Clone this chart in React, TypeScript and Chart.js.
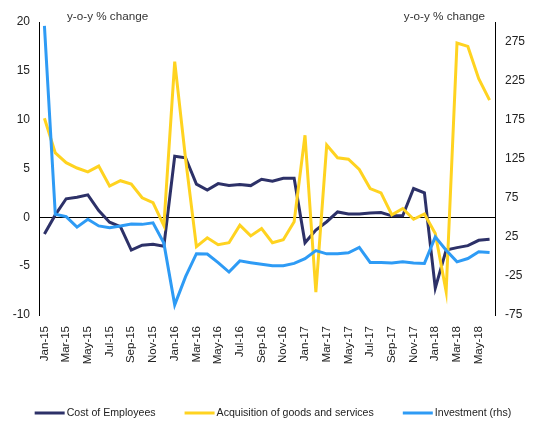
import React, { useEffect, useRef } from "react";
import { Chart, registerables } from "chart.js";

Chart.register(...registerables);

const months: string[] = [
  "Jan-15","Feb-15","Mar-15","Apr-15","May-15","Jun-15","Jul-15","Aug-15","Sep-15","Oct-15","Nov-15","Dec-15",
  "Jan-16","Feb-16","Mar-16","Apr-16","May-16","Jun-16","Jul-16","Aug-16","Sep-16","Oct-16","Nov-16","Dec-16",
  "Jan-17","Feb-17","Mar-17","Apr-17","May-17","Jun-17","Jul-17","Aug-17","Sep-17","Oct-17","Nov-17","Dec-17",
  "Jan-18","Feb-18","Mar-18","Apr-18","May-18","Jun-18",
];

const costOfEmployees: number[] = [
  -1.7, 0.25, 1.9, 2.05, 2.3, 0.7, -0.5, -0.95, -3.35, -2.85, -2.75, -2.95,
  6.25, 6.1, 3.4, 2.8, 3.45, 3.25, 3.35, 3.25, 3.9, 3.7, 4.0, 4.0,
  -2.6, -1.3, -0.45, 0.55, 0.35, 0.35, 0.45, 0.5, 0.15, 0.15, 2.95, 2.5,
  -7.25, -3.35, -3.1, -2.9, -2.35, -2.25,
];

const acquisitionGoods: number[] = [
  10.15, 6.6, 5.6, 5.05, 4.65, 5.25, 3.2, 3.75, 3.4, 2.0, 1.5, -0.85,
  15.95, 6.0, -3.0, -2.1, -2.8, -2.6, -0.8, -1.9, -1.15, -2.6, -2.3, -0.45,
  8.4, -7.65, 7.4, 6.1, 5.95, 4.9, 2.95, 2.5, 0.25, 0.9, -0.2, 0.35,
  -1.65, -7.6, 17.85, 17.5, 14.2, 12.0,
];

const investmentRhs: number[] = [
  295, 54, 51, 37.5, 47.5, 39, 36.7, 38.9, 41.5, 41, 43, 17,
  -62, -26, 3.5, 3, -8, -20, -5.7, -8, -10, -12, -12, -9,
  -3, 7.5, 3.3, 3.3, 4.6, 11.4, -7.8, -7.8, -8.5, -7, -8.3, -9,
  25, 8, -7, -2.7, 5.9, 5,
];

const rightTicks: number[] = [-75, -25, 25, 75, 125, 175, 225, 275];
const axisTitle = "y-o-y % change";
const seriesNames: string[] = ["Cost of Employees", "Acquisition of goods and services", "Investment (rhs)"];
const seriesColors: string[] = ["#2D3168", "#FFD320", "#2E9BF5"];

const FONT = "'Liberation Sans', Arial, sans-serif";

const overlayPlugin = {
  id: "overlay",
  afterDraw(chart: any) {
    const ctx = chart.ctx;
    const area = chart.chartArea;
    ctx.save();
    // axis titles
    ctx.font = `11.7px ${FONT}`;
    ctx.fillStyle = "#333";
    ctx.textBaseline = "middle";
    ctx.textAlign = "left";
    ctx.fillText(axisTitle, area.left + 28, 16.5);
    ctx.textAlign = "right";
    ctx.fillText(axisTitle, area.right - 10, 17);

    // legend
    ctx.font = `10.6px ${FONT}`;
    const lineW = 30;
    const gapAfterLine = 2;
    const gapItems = 29;
    const ds = chart.data.datasets;
    const widths = ds.map((d: any) => lineW + gapAfterLine + ctx.measureText(d.label).width);
    const total = widths.reduce((a: number, b: number) => a + b, 0) + gapItems * (ds.length - 1);
    let x = 273 - total / 2;
    const y = 413;
    ds.forEach((d: any, i: number) => {
      ctx.strokeStyle = d.borderColor;
      ctx.lineWidth = 3;
      ctx.beginPath();
      ctx.moveTo(x, y);
      ctx.lineTo(x + lineW, y);
      ctx.stroke();
      ctx.fillStyle = "#222";
      ctx.textAlign = "left";
      ctx.textBaseline = "middle";
      ctx.fillText(d.label, x + lineW + gapAfterLine, y + 0.5);
      x += widths[i] + gapItems;
    });
    ctx.restore();
  },
};

export default function App() {
  const canvasRef = useRef<HTMLCanvasElement | null>(null);

  useEffect(() => {
    if (!canvasRef.current) return;
    const chart = new Chart(canvasRef.current, {
      type: "line",
      data: {
        labels: months,
        datasets: [
          {
            label: seriesNames[0],
            data: costOfEmployees,
            borderColor: seriesColors[0],
            backgroundColor: seriesColors[0],
            borderWidth: 3,
            pointRadius: 0,
            tension: 0,
            yAxisID: "y",
            order: 3,
          },
          {
            label: seriesNames[1],
            data: acquisitionGoods,
            borderColor: seriesColors[1],
            backgroundColor: seriesColors[1],
            borderWidth: 3,
            pointRadius: 0,
            tension: 0,
            yAxisID: "y",
            order: 2,
          },
          {
            label: seriesNames[2],
            data: investmentRhs,
            borderColor: seriesColors[2],
            backgroundColor: seriesColors[2],
            borderWidth: 3,
            pointRadius: 0,
            tension: 0,
            yAxisID: "y1",
            order: 1,
          },
        ],
      },
      options: {
        animation: false,
        responsive: false,
        devicePixelRatio: 1,
        layout: { padding: { top: 22, left: 0, right: 0, bottom: 0 } },
        plugins: {
          legend: { display: false },
          tooltip: { enabled: false },
          title: { display: false },
        },
        scales: {
          x: {
            type: "category",
            offset: true,
            grid: { display: false },
            border: { display: false },
            ticks: {
              autoSkip: false,
              maxRotation: 90,
              minRotation: 90,
              padding: 3,
              color: "#222",
              font: { size: 11.5, family: FONT },
              callback: (_v: any, idx: number) => (idx % 2 === 0 ? months[idx] : ""),
            },
            afterFit: (scale: any) => {
              scale.height = 106;
            },
          },
          y: {
            position: "left",
            min: -10,
            max: 20,
            ticks: {
              stepSize: 5,
              padding: 9,
              color: "#222",
              font: { size: 12, family: FONT },
            },
            grid: {
              drawTicks: false,
              lineWidth: 1,
              color: (c: any) => (c.tick && c.tick.value === 0 ? "#000" : "rgba(0,0,0,0)"),
            },
            border: { display: true, color: "#000", width: 1 },
            afterFit: (scale: any) => {
              scale.width = 39;
            },
          },
          y1: {
            position: "right",
            min: -75,
            max: 300,
            afterBuildTicks: (scale: any) => {
              scale.ticks = rightTicks.map((v) => ({ value: v }));
            },
            ticks: {
              padding: 10,
              color: "#222",
              font: { size: 12, family: FONT },
            },
            grid: { drawOnChartArea: false, drawTicks: false },
            border: { display: true, color: "#000", width: 1 },
            afterFit: (scale: any) => {
              scale.width = 39;
            },
          },
        },
      },
      plugins: [overlayPlugin],
    });
    return () => chart.destroy();
  }, []);

  return (
    <div style={{ position: "absolute", left: 0, top: 0, width: 534, height: 421, background: "#fff" }}>
      <canvas ref={canvasRef} width={534} height={421} style={{ width: 534, height: 421, display: "block" }} />
    </div>
  );
}
